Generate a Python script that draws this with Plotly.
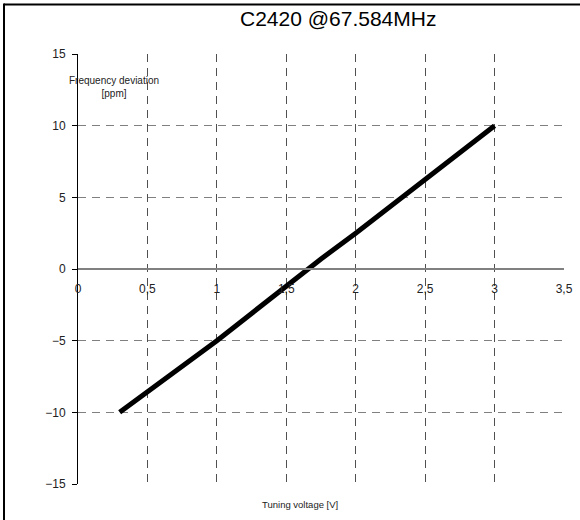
import plotly.graph_objects as go

# Data
voltage = [0.3, 0.5, 0.75, 1.0, 1.25, 1.5, 1.65, 1.75, 2.0, 2.25, 2.5, 2.75, 3.0]
deviation = [-10.0, -8.6, -6.8, -5.0, -3.1, -1.2, 0.0, 0.7, 2.5, 4.4, 6.3, 8.2, 10.0]
zero_x = [0.3, 3.0]
zero_y = [0, 0]
x_ticks = [0, 0.5, 1, 1.5, 2, 2.5, 3, 3.5]
x_ticklabels = ["0", "0,5", "1", "1,5", "2", "2,5", "3", "3,5"]
y_ticks = [-15, -10, -5, 0, 5, 10, 15]

title_text = "C2420 @67.584MHz"
x_title = "Tuning voltage [V]"
y_title = "Frequency deviation<br>[ppm]"

FONT = "Liberation Sans, Arial, sans-serif"
W, H = 580, 520
L, R, T, B = 78, 16, 54, 36
pw, ph = W - L - R, H - T - B

def px_x(p):
    return (p - L) / pw

def px_y(p):
    return (H - B - p) / ph

fig = go.Figure()
fig.add_trace(go.Scatter(x=zero_x, y=zero_y, mode="lines",
                         line=dict(color="black", width=2), showlegend=False))
fig.add_trace(go.Scatter(x=voltage, y=deviation, mode="lines",
                         line=dict(color="black", width=5), showlegend=False))

fig.update_layout(
    width=W, height=H,
    margin=dict(l=L, r=R, t=T, b=B, autoexpand=False),
    paper_bgcolor="white", plot_bgcolor="white",
    font=dict(family=FONT, color="#222", size=11),
    xaxis=dict(range=[0, 3.5], tickvals=x_ticks, ticktext=x_ticklabels,
               anchor="free", position=0.5, showline=True, linecolor="#808080",
               linewidth=2, showgrid=True, gridcolor="#505050", griddash="8px,6px",
               gridwidth=1, zeroline=False, ticks="outside", ticklen=4,
               ticklabelstandoff=5, automargin=False,
               tickcolor="rgba(0,0,0,0)", tickfont=dict(size=12, color="#222")),
    yaxis=dict(range=[-15, 15], tickvals=y_ticks, showline=True, linecolor="black",
               linewidth=1, showgrid=True, gridcolor="#808080", griddash="8px,6px",
               gridwidth=1, zeroline=False, ticks="outside", ticklen=5,
               ticklabelstandoff=4, automargin=False,
               tickcolor="black", tickfont=dict(size=12, color="#222")),
    annotations=[
        dict(text=title_text, xref="paper", yref="paper", x=px_x(338), y=px_y(18),
             xanchor="center", yanchor="middle", showarrow=False,
             font=dict(size=21, family=FONT, color="black")),
        dict(text=x_title, xref="paper", yref="paper", x=px_x(300), y=px_y(504),
             xanchor="center", yanchor="middle", showarrow=False,
             font=dict(size=9.5, family=FONT, color="#222")),
        dict(text=y_title, xref="paper", yref="paper", x=px_x(114), y=px_y(87),
             xanchor="center", yanchor="middle", showarrow=False,
             font=dict(size=10, family=FONT, color="#222")),
    ],
    shapes=[
        dict(type="line", xref="paper", yref="paper", x0=px_x(4), x1=px_x(W + 5),
             y0=px_y(4.5), y1=px_y(4.5), line=dict(color="black", width=2)),
        dict(type="line", xref="paper", yref="paper", x0=px_x(4), x1=px_x(4),
             y0=px_y(3.5), y1=px_y(H + 5), line=dict(color="black", width=2)),
    ],
)

fig.write_html("out.html")
